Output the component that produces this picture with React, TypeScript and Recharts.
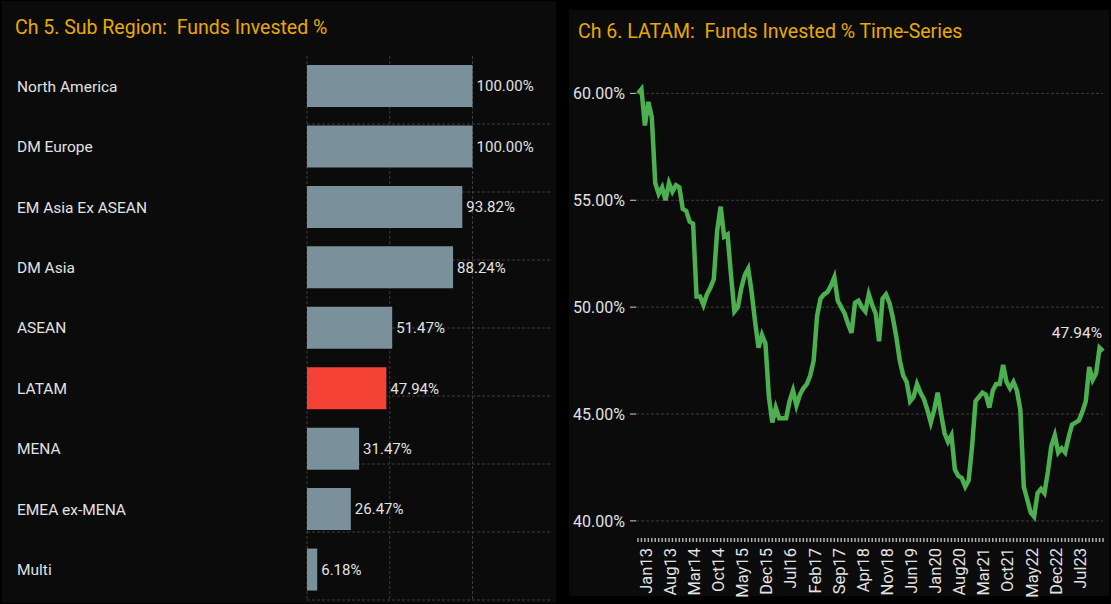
import React from "react";
import {
  BarChart,
  Bar,
  Cell,
  LabelList,
  LineChart,
  Line,
  XAxis,
  YAxis,
  CartesianGrid,
} from "recharts";

// Ch 5 data
const regions = [
  "North America",
  "DM Europe",
  "EM Asia Ex ASEAN",
  "DM Asia",
  "ASEAN",
  "LATAM",
  "MENA",
  "EMEA ex-MENA",
  "Multi",
];
const invested = [100, 100, 93.82, 88.24, 51.47, 47.94, 31.47, 26.47, 6.18];
const highlight = "LATAM";
const barTicks = [0, 50, 100];

// Ch 6 data, monthly from Jan13
const monthNames = ["Jan", "Feb", "Mar", "Apr", "May", "Jun", "Jul", "Aug", "Sep", "Oct", "Nov", "Dec"];
const startYear = 13;
const latamSeries = [
  60.0, 60.2, 58.5, 59.6, 58.9, 55.8, 55.3, 55.6, 55.0, 55.8, 55.4, 55.7,
  55.6, 54.6, 54.5, 54.0, 53.9, 50.5, 50.5, 50.1, 50.6, 50.9, 51.3, 53.6,
  54.7, 53.3, 53.4, 51.5, 49.8, 50.0, 50.9, 51.5, 51.8, 50.7, 49.3, 48.1,
  48.7, 48.3, 45.8, 44.6, 45.3, 44.8, 44.8, 44.8, 45.6, 46.1, 45.4, 45.9,
  46.2, 46.4, 46.8, 47.5, 49.6, 50.4, 50.6, 50.7, 51.0, 51.4, 50.3, 50.0,
  49.7, 49.2, 48.8, 50.2, 50.3, 50.0, 49.8, 50.6, 50.1, 49.7, 48.4, 50.4,
  50.6, 50.2, 49.5, 48.6, 47.5, 46.8, 46.5, 45.6, 45.8, 46.4, 46.0, 45.7,
  45.2, 44.6, 45.2, 46.0, 45.0, 44.1, 43.7, 44.0, 42.4, 42.1, 42.0, 41.6,
  41.9, 43.5, 45.6, 45.8, 46.0, 45.9, 45.3, 46.1, 46.4, 46.4, 47.3, 46.5,
  46.2, 46.5, 46.1, 45.2, 41.6, 41.0, 40.4, 40.2, 41.3, 41.5, 41.3, 42.3,
  43.5, 44.0, 43.2, 43.4, 43.2, 43.9, 44.5, 44.6, 44.7, 45.1, 45.6, 47.2,
  46.6, 46.9, 48.1, 47.94,
];
const xTickLabels = [
  "Jan13", "Aug13", "Mar14", "Oct14", "May15", "Dec15", "Jul16", "Feb17",
  "Sep17", "Apr18", "Nov18", "Jun19", "Jan20", "Aug20", "Mar21", "Oct21",
  "May22", "Dec22", "Jul23",
];
const yTicks = [40, 45, 50, 55, 60];

const barData = regions.map((name, i) => ({ name, value: invested[i] }));
const lineData = latamSeries.map((value, i) => ({
  date: monthNames[i % 12] + String(startYear + Math.floor(i / 12)),
  value,
}));

const FONT = "Roboto, 'DejaVu Sans', sans-serif";
const GOLD = "#e8a900";
const TEXT = "#e2e2e2";
const GRID = "#3c3c3c";

function CategoryTick({ y, payload }: any) {
  return (
    <text x={17} y={y} dy="0.35em" textAnchor="start" fill={TEXT} fontSize={15.5} fontFamily={FONT}>
      {payload.value}
    </text>
  );
}

function EmptyTick() {
  return <g />;
}

function DateTick({ x, y, payload }: any) {
  if (!xTickLabels.includes(payload.value)) return null;
  const tx = x + 8;
  return (
    <text
      x={tx}
      y={y}
      transform={`rotate(-90, ${tx}, ${y})`}
      dy="0.35em"
      textAnchor="end"
      fill={TEXT}
      fontSize={16.5}
      fontFamily={FONT}
    >
      {payload.value}
    </text>
  );
}

function LastLabel({ x, y, index, value }: any) {
  if (index !== lineData.length - 1) return null;
  return (
    <text x={x - 1} y={y - 13} textAnchor="end" fill={TEXT} fontSize={15.5} fontFamily={FONT}>
      {value.toFixed(2)}%
    </text>
  );
}

export default function App() {
  return (
    <div
      style={{
        position: "absolute",
        left: 0,
        top: 0,
        width: 1111,
        height: 604,
        background: "#000",
        fontFamily: FONT,
        overflow: "hidden",
      }}
    >
      {/* left panel */}
      <div style={{ position: "absolute", left: 2, top: 1, width: 554, height: 602, background: "#0b0b0b" }} />
      <div style={{ position: "absolute", left: 15, top: 16, color: GOLD, fontSize: 19.5, whiteSpace: "pre" }}>
        {"Ch 5. Sub Region:  Funds Invested %"}
      </div>
      <div style={{ position: "absolute", left: 0, top: 0 }}>
        <BarChart
          width={556}
          height={604}
          data={barData}
          layout="vertical"
          margin={{ top: 56, right: 4, bottom: 4, left: 0 }}
          barSize={42}
        >
          <CartesianGrid stroke={GRID} strokeDasharray="3 2" horizontal={false} syncWithTicks />
          <CartesianGrid stroke={GRID} strokeDasharray="3 2" vertical={false} yAxisId="grid" syncWithTicks />
          <XAxis
            type="number"
            domain={[0, 148]}
            ticks={barTicks}
            height={0}
            axisLine={false}
            tickLine={false}
            tick={<EmptyTick />}
          />
          <YAxis
            type="category"
            dataKey="name"
            width={307}
            axisLine={false}
            tickLine={false}
            tick={<CategoryTick />}
            interval={0}
          />
          <YAxis
            yAxisId="grid"
            type="number"
            domain={[0, 9]}
            ticks={[1, 2, 3, 4, 5, 6, 7, 8]}
            hide
          />
          <Bar dataKey="value" isAnimationActive={false}>
            {barData.map((d) => (
              <Cell key={d.name} fill={d.name === highlight ? "#f44336" : "#7a909b"} />
            ))}
            <LabelList
              dataKey="value"
              position="right"
              offset={4}
              fill={TEXT}
              fontSize={15}
              fontFamily={FONT}
              formatter={(v: any) => `${Number(v).toFixed(2)}%`}
            />
          </Bar>
        </BarChart>
      </div>

      {/* right panel */}
      <div style={{ position: "absolute", left: 569, top: 10, width: 540, height: 586, background: "#0b0b0b" }} />
      <div style={{ position: "absolute", left: 578, top: 20, color: GOLD, fontSize: 19.5, whiteSpace: "pre" }}>
        {"Ch 6. LATAM:  Funds Invested % Time-Series"}
      </div>
      <div style={{ position: "absolute", left: 569, top: 10 }}>
        <LineChart
          width={540}
          height={594}
          data={lineData}
          margin={{ top: 62, right: 6, bottom: 0, left: 0 }}
        >
          <CartesianGrid stroke={GRID} strokeDasharray="3 2" vertical={false} syncWithTicks />
          <XAxis
            dataKey="date"
            interval={0}
            height={66}
            axisLine={false}
            tickLine={{ stroke: "#b0b0b0", strokeWidth: 1.5 }}
            tickSize={4}
            tick={<DateTick />}
            tickMargin={6}
            padding={{ left: 2, right: 0 }}
          />
          <YAxis
            domain={[39.2, 61]}
            ticks={yTicks}
            width={67}
            axisLine={false}
            tickLine={{ stroke: "#cfcfcf" }}
            tickSize={6}
            tickMargin={5}
            tick={{ fill: TEXT, fontSize: 16, fontFamily: FONT }}
            tickFormatter={(v: number) => `${v.toFixed(2)}%`}
          />
          <Line
            type="linear"
            dataKey="value"
            stroke="#4caf50"
            strokeWidth={4.5}
            dot={false}
            isAnimationActive={false}
          >
            <LabelList dataKey="value" content={<LastLabel />} />
          </Line>
        </LineChart>
      </div>
    </div>
  );
}
